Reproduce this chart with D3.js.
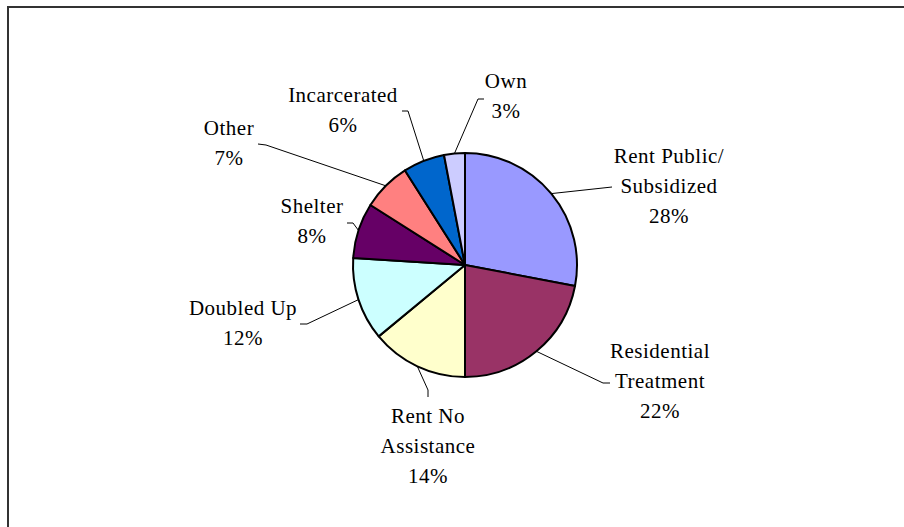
<!DOCTYPE html>
<html>
<head>
<meta charset="utf-8">
<script src="https://cdn.jsdelivr.net/npm/d3@7"></script>
<style>
  html, body { margin: 0; padding: 0; background: #fff; }
  svg { display: block; }
  text { font-family: "Liberation Serif", "Times New Roman", serif; font-size: 21px; fill: #000; letter-spacing: 0.5px; }
</style>
</head>
<body>
<svg id="chart" width="904" height="527"></svg>
<script>
// Living situation categories (clockwise from 12 o'clock) and their shares in percent
const categories = ["Rent Public/ Subsidized", "Residential Treatment", "Rent No Assistance",
                    "Doubled Up", "Shelter", "Other", "Incarcerated", "Own"];
const shares = [28, 22, 14, 12, 8, 7, 6, 3];
const labelLines = [["Rent Public/", "Subsidized"], ["Residential", "Treatment"], ["Rent No", "Assistance"],
                    ["Doubled Up"], ["Shelter"], ["Other"], ["Incarcerated"], ["Own"]];
const colors = ["#9999FF", "#993366", "#FFFFCC", "#CCFFFF", "#660066", "#FF8080", "#0066CC", "#CCCCFF"];

// Label placement: text centre x, first baseline y, and leader-line bend/end points
const labelLayout = [
  { x: 669, y: 163, bend: [612, 187], end: [612, 187] },
  { x: 660, y: 358, bend: [603, 383], end: [610, 383] },
  { x: 428, y: 423, bend: [428, 390], end: [428, 397] },
  { x: 243, y: 315, bend: [307, 324], end: [300, 324] },
  { x: 312, y: 213, bend: [353, 223], end: [347, 223] },
  { x: 229, y: 135, bend: [266, 145], end: [258, 144] },
  { x: 343, y: 102, bend: [408, 111], end: [402, 111] },
  { x: 506, y: 88,  bend: [478, 99],  end: [484, 99] }
];

const svg = d3.select("#chart");
const cx = 465, cy = 265, radius = 112, lineGap = 30;

// Outer frame
svg.append("rect")
  .attr("x", 8).attr("y", 7).attr("width", 1000).attr("height", 1000)
  .attr("fill", "none").attr("stroke", "#333").attr("stroke-width", 2);

const data = categories.map((c, i) => ({ name: c, value: shares[i], lines: labelLines[i], color: colors[i], layout: labelLayout[i] }));

const pie = d3.pie().sort(null).value(d => d.value).startAngle(0).endAngle(2 * Math.PI);
const arc = d3.arc().innerRadius(0).outerRadius(radius);
const arcs = pie(data);

const g = svg.append("g").attr("transform", `translate(${cx},${cy})`);
g.selectAll("path.slice")
  .data(arcs)
  .join("path")
  .attr("class", "slice")
  .attr("d", arc)
  .attr("fill", d => d.data.color)
  .attr("stroke", "#000")
  .attr("stroke-width", 2)
  .attr("stroke-linejoin", "round");

// Leader lines from slice edge midpoint to the label
const leader = d3.line();
svg.selectAll("path.leader")
  .data(arcs)
  .join("path")
  .attr("class", "leader")
  .attr("fill", "none")
  .attr("stroke", "#000")
  .attr("stroke-width", 1)
  .attr("d", d => {
    const a = (d.startAngle + d.endAngle) / 2;
    const p0 = [cx + radius * Math.sin(a), cy - radius * Math.cos(a)];
    return leader([p0, d.data.layout.bend, d.data.layout.end]);
  });

// Category labels with percentages
const labels = svg.selectAll("text.label")
  .data(arcs)
  .join("text")
  .attr("class", "label")
  .attr("text-anchor", "middle");
labels.each(function(d) {
  const t = d3.select(this);
  const L = d.data.layout;
  const rows = d.data.lines.concat([d.data.value + "%"]);
  rows.forEach((r, i) => {
    t.append("tspan").attr("x", L.x).attr("y", L.y + i * lineGap).text(r);
  });
});
</script>
</body>
</html>
